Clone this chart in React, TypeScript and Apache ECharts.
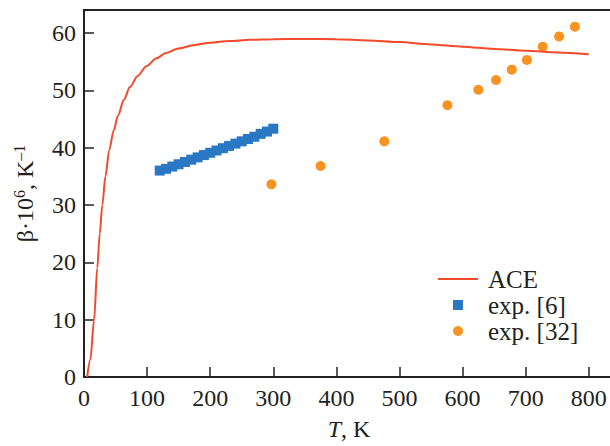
import React, { useEffect, useRef } from "react";
import * as echarts from "echarts";

const aceT = [5, 10, 16, 21, 25, 29, 34, 40, 47, 54, 63, 73, 85, 99, 115, 130, 150, 175, 200, 230, 263, 300, 350, 400, 450, 500, 550, 600, 650, 700, 750, 800];
const aceBeta = [0, 3, 10, 19, 25, 30, 35, 39.6, 43, 45.6, 48.3, 50.6, 52.5, 54.2, 55.6, 56.5, 57.3, 57.9, 58.3, 58.6, 58.8, 58.9, 58.95, 58.9, 58.7, 58.4, 58.0, 57.6, 57.2, 56.9, 56.6, 56.3];

const exp6T = [120, 130, 140, 150, 160, 170, 180, 190, 200, 210, 220, 230, 240, 250, 260, 270, 280, 290, 300];
const exp6Beta = [36.0, 36.3, 36.7, 37.1, 37.5, 37.9, 38.3, 38.7, 39.1, 39.5, 39.9, 40.3, 40.7, 41.1, 41.5, 41.9, 42.4, 42.8, 43.3];

const exp32T = [297, 375, 476, 576, 625, 653, 678, 702, 727, 753, 778];
const exp32Beta = [33.6, 36.8, 41.1, 47.4, 50.1, 51.8, 53.6, 55.3, 57.6, 59.4, 61.1];

const xTicks = [0, 100, 200, 300, 400, 500, 600, 700, 800];
const yTicks = [0, 10, 20, 30, 40, 50, 60];

const FONT = "'Liberation Serif', 'Times New Roman', serif";
const AX = "#222";
const TXT = "#231f20";

export default function App() {
  const ref = useRef<HTMLDivElement>(null);
  useEffect(() => {
    if (!ref.current) return;
    const chart = echarts.init(ref.current, null, { renderer: "svg" });
    const legendText = { fontFamily: FONT, fontSize: 25, color: TXT, lineHeight: 26 };
    chart.setOption({
      animation: false,
      textStyle: { fontFamily: FONT },
      grid: {
        left: 84, top: 10, width: 530, height: 367,
        outerBoundsMode: "none", containLabel: false,
        show: true, borderColor: AX, borderWidth: 2,
      },
      legend: [
        {
          orient: "vertical",
          left: 438,
          top: 266,
          padding: 0,
          itemWidth: 40,
          itemHeight: 10,
          itemGap: 0,
          textStyle: { ...legendText, padding: [0, 0, 0, 5] },
          data: [{ name: "ACE", icon: "path://M0,0H40V2H0Z" }],
        },
        {
          orient: "vertical",
          left: 453,
          top: 292,
          padding: 0,
          itemWidth: 10,
          itemHeight: 10,
          itemGap: 0,
          symbolKeepAspect: true,
          textStyle: { ...legendText, padding: [0, 0, 0, 20] },
          data: ["exp. [6]", "exp. [32]"],
        },
      ],
      xAxis: {
        type: "value",
        min: 0,
        max: 840,
        interval: 100,
        name: "{i|T}, K",
        nameLocation: "middle",
        nameGap: 40,
        nameTextStyle: {
          fontFamily: FONT, fontSize: 24, color: TXT,
          rich: { i: { fontStyle: "italic", fontFamily: FONT, fontSize: 24, color: TXT } },
        },
        axisLine: { show: true, lineStyle: { color: AX, width: 2 } },
        axisTick: { show: true, inside: true, length: 10, lineStyle: { color: AX, width: 1.5 } },
        axisLabel: {
          fontFamily: FONT, fontSize: 24, color: TXT, margin: 9,
          formatter: (v: number) => (xTicks.includes(v) ? String(v) : ""),
        },
        splitLine: { show: false },
      },
      yAxis: {
        type: "value",
        min: 0,
        max: 64,
        interval: 10,
        name: "{a|β·10}{s|6}{a|, K}{s|–1}",
        nameLocation: "middle",
        nameGap: 45,
        nameRotate: 90,
        nameTextStyle: {
          fontFamily: FONT, fontSize: 24, color: TXT,
          rich: {
            a: { fontFamily: FONT, fontSize: 24, color: TXT, lineHeight: 28 },
            s: { fontFamily: FONT, fontSize: 16, color: TXT, lineHeight: 16, verticalAlign: "top" },
          },
        },
        axisLine: { show: true, lineStyle: { color: AX, width: 2 } },
        axisTick: { show: true, inside: true, length: 10, lineStyle: { color: AX, width: 1.5 } },
        axisLabel: {
          fontFamily: FONT, fontSize: 24, color: TXT, margin: 8,
          formatter: (v: number) => (yTicks.includes(v) ? String(v) : ""),
        },
        splitLine: { show: false },
      },
      series: [
        {
          name: "ACE",
          type: "line",
          symbol: "none",
          smooth: 0.3,
          smoothMonotone: "x",
          lineStyle: { color: "#f34a2c", width: 2 },
          itemStyle: { color: "#f34a2c" },
          data: aceT.map((t, i) => [t, aceBeta[i]]),
          z: 3,
        },
        {
          name: "exp. [6]",
          type: "scatter",
          symbol: "rect",
          symbolSize: 10,
          itemStyle: { color: "#2a78c4", opacity: 1 },
          data: exp6T.map((t, i) => [t, exp6Beta[i]]),
        },
        {
          name: "exp. [32]",
          type: "scatter",
          symbol: "circle",
          symbolSize: 10,
          itemStyle: { color: "#f7931e", opacity: 1 },
          data: exp32T.map((t, i) => [t, exp32Beta[i]]),
        },
      ],
    });
    return () => chart.dispose();
  }, []);
  return <div ref={ref} style={{ width: 610, height: 446, position: "absolute", left: 0, top: 0 }} />;
}
